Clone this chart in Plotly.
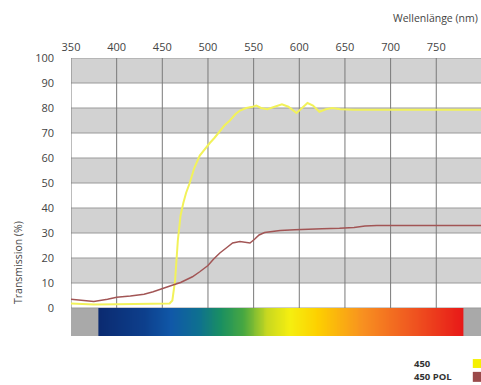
import numpy as np
import plotly.graph_objects as go

# ---- data ----
wl_450 = [350, 360, 375, 400, 425, 450, 458, 461, 464, 467, 470, 473, 476, 480, 485, 491, 497, 502,
          507, 513, 518, 524, 530, 535, 542, 549, 553, 558, 565, 573, 581, 588, 597, 603, 609, 615,
          622, 629, 636, 645, 660, 700, 750, 799]
t_450 = [1.8, 1.6, 1.4, 1.5, 1.6, 1.6, 1.8, 3, 11, 27, 37, 42, 46, 50, 56, 61, 64, 66,
         68, 71, 73, 75, 77.5, 79, 80, 80.5, 81, 80, 79.5, 80.5, 81.5, 80.5, 78, 80, 82, 81,
         78.5, 79.5, 80, 79.5, 79.3, 79.3, 79.3, 79.3]

wl_pol = [350, 362, 375, 390, 400, 415, 430, 440, 451, 460, 470, 483, 491, 500, 506, 513, 520, 527,
          535, 541, 546, 551, 556, 562, 570, 579, 595, 608, 625, 644, 660, 672, 685, 720, 760, 799]
t_pol = [3.5, 3.0, 2.6, 3.5, 4.3, 4.8, 5.5, 6.5, 8, 9, 10.2, 12.5, 14.5, 17, 19.5, 22, 24, 26,
         26.6, 26.4, 26, 27.5, 29.2, 30.2, 30.7, 31, 31.3, 31.6, 31.7, 31.9, 32.2, 32.8, 33, 33, 33, 33]

x_ticks = [350, 400, 450, 500, 550, 600, 650, 700, 750]
y_ticks = [0, 10, 20, 30, 40, 50, 60, 70, 80, 90, 100]

# spectrum gradient stops (wavelength, colour)
spec_wl = [380, 430, 460, 490, 515, 540, 565, 590, 620, 670, 720, 780]
spec_col = ["#0b2a70", "#0d3f8c", "#1058a8", "#0e7090", "#1a9060", "#4aa840",
            "#c8d820", "#f5ee10", "#fdd000", "#f89020", "#f05a20", "#e81818"]

X0, X1 = 350, 799
BAR = -11.2

fig = go.Figure()

# spectrum bar
edges = np.arange(380, 781, 1)
centers = (edges[:-1] + edges[1:]) / 2
cs = [[(w - 380) / 400, c] for w, c in zip(spec_wl, spec_col)]
fig.add_trace(go.Heatmap(x=edges, y=[BAR, 0], z=[centers], colorscale=cs, zmin=380, zmax=780,
                         showscale=False, hoverinfo="skip"))

fig.add_trace(go.Scatter(x=wl_450, y=t_450, mode="lines", name="450",
                         line=dict(color="#f2f25a", width=2), showlegend=False))
fig.add_trace(go.Scatter(x=wl_pol, y=t_pol, mode="lines", name="450 POL",
                         line=dict(color="#a25555", width=1.5), showlegend=False))

shapes = []
shapes.append(dict(type="rect", x0=X0, x1=X1, y0=BAR, y1=0, fillcolor="#a9a9a9",
                   line=dict(width=0), layer="below"))
for b in range(10, 100, 20):
    shapes.append(dict(type="rect", x0=X0, x1=X1, y0=b, y1=b + 10, fillcolor="#d2d2d2",
                       line=dict(width=0), layer="below"))
for v in y_ticks:
    shapes.append(dict(type="line", x0=X0, x1=X1, y0=v, y1=v,
                       line=dict(color="#9a9a9a", width=1), layer="below"))
for v in x_ticks:
    shapes.append(dict(type="line", x0=v, x1=v, y0=0, y1=100,
                       line=dict(color="#7a7a7a", width=1), layer="below"))
# legend squares
shapes.append(dict(type="rect", xref="paper", yref="paper", x0=0.980, x1=1.0, y0=-0.115, y1=-0.083,
                   fillcolor="#f5f000", line=dict(width=0)))
shapes.append(dict(type="rect", xref="paper", yref="paper", x0=0.980, x1=1.0, y0=-0.165, y1=-0.129,
                   fillcolor="#9a4a4a", line=dict(width=0)))

annotations = [
    dict(text="Wellenlänge (nm)", xref="paper", yref="paper", x=0.998, y=1.144,
         xanchor="right", yanchor="middle", showarrow=False,
         font=dict(size=10.5, color="#444")),
    dict(text="Transmission (%)", xref="paper", yref="paper", x=-0.129, y=0.263,
         xanchor="center", yanchor="middle", textangle=-90, showarrow=False,
         font=dict(size=10.5, color="#444")),
    dict(text="<b>450</b>", xref="paper", yref="paper", x=0.832, y=-0.100,
         xanchor="left", yanchor="middle", showarrow=False, font=dict(size=9.5, color="#333")),
    dict(text="<b>450 POL</b>", xref="paper", yref="paper", x=0.832, y=-0.147,
         xanchor="left", yanchor="middle", showarrow=False, font=dict(size=9.5, color="#333")),
]

fig.update_layout(
    width=481, height=385,
    margin=dict(l=71, r=0, t=58, b=49),
    paper_bgcolor="white", plot_bgcolor="white",
    font=dict(family="Open Sans", size=11, color="#444"),
    shapes=shapes, annotations=annotations,
    xaxis=dict(range=[X0, X1], side="top", tickvals=x_ticks, showgrid=False, zeroline=False,
               showline=False, ticks="", ticklabelstandoff=4, fixedrange=True),
    yaxis=dict(range=[BAR, 100], tickvals=y_ticks, showgrid=False, zeroline=False,
               showline=False, ticks="", ticklabelstandoff=16, fixedrange=True),
)

fig.write_html("out.html", config={"displayModeBar": False},
               post_script="document.body.style.margin='0';document.body.style.overflow='hidden';")
